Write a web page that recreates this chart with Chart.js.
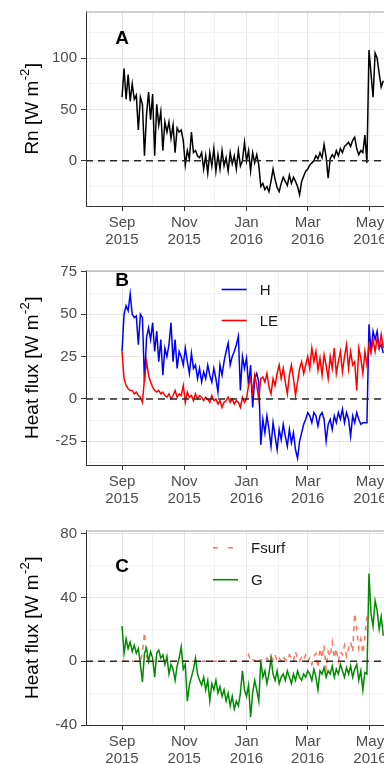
<!DOCTYPE html>
<html>
<head>
<meta charset="utf-8">
<script src="https://cdn.jsdelivr.net/npm/chart.js@4.4.0/dist/chart.umd.min.js"></script>
<style>
  html, body { margin: 0; padding: 0; background: #fff; width: 384px; height: 764px; overflow: hidden; }
  .panel { position: absolute; left: 0; width: 420px; height: 250px; }
</style>
</head>
<body>
<div class="panel" style="top:0px"><canvas id="chartA"></canvas></div>
<div class="panel" style="top:259px"><canvas id="chartB"></canvas></div>
<div class="panel" style="top:519px"><canvas id="chartC"></canvas></div>
<script>
// series are read every second day, starting on 1 Sep 2015
const startDate = '2015-09-01';
const stepDays = 2;

// x axis breaks
const monthBreaks = ['2015-09-01', '2015-11-01', '2016-01-01', '2016-03-01', '2016-05-01'];
const monthLabels = [['Sep', '2015'], ['Nov', '2015'], ['Jan', '2016'], ['Mar', '2016'], ['May', '2016']];
const minorBreaks = ['2015-08-01', '2015-10-01', '2015-12-01', '2016-02-01', '2016-04-01'];

// panel A: net radiation
const rn = [
  62, 90, 60, 84, 58, 75, 60, 64, 30, 62,
  55, 5, 45, 67, 40, 65, 5, 55, 35, 48,
  10, 38, 28, 38, 22, 35, 8, 32, 28, 30,
  20, -4, 10, 2, 28, 8, 10, 5, 3, 8,
  -8, 5, -12, 8, -5, 12, -10, 6, -8, 10,
  -5, 3, -10, 8, -3, 5, -8, 10, -5, 0,
  18, 0, 10, -10, 8, -2, 6, -4, -25, -22,
  -28, -25, -30, -20, -8, -18, -26, -30, -22, -16,
  -20, -24, -14, -22, -16, -20, -25, -33, -20, -15,
  -10, -8, -4, -2, 0, 5, 2, 8, 3, 16,
  4, -17, 2, 6, 3, 10, 5, 12, 8, 14,
  16, 18, 14, 20, 23, 12, 6, 10, 8, 25,
  -2, 108, 85, 62, 105, 100, 85, 72, 78
];

// panel B: sensible and latent heat flux
const fluxH = [
  28, 50, 55, 52, 62, 50, 48, 49, 32, 50,
  48, 10, 36, 42, 35, 45, 28, 40, 22, 35,
  14, 30, 25, 32, 45, 22, 35, 18, 28, 25,
  20, 30, 22, 15, 27, 18, 20, 12, 18, 10,
  16, 12, 20, 14, 10, 18, 12, 4, 20, 14,
  22, 28, 33, 20, 25, 28, 32, 37, 5, 25,
  18, 24, 8, 20, -5, 12, 15, 10, -27, -12,
  -20, -10, -18, -28, -14, -22, -30, -18, -24, -15,
  -22, -28, -18, -26, -20, -30, -35, -25, -20, -15,
  -12, -8, -10, -14, -8, -10, -16, -10, -8, -12,
  -25, -15, -12, -18, -10, -14, -8, -12, -6, -14,
  -8, -12, -22, -10, -14, -8, -12, -15, -14, -14,
  -14, 44, 28, 40, 35, 40, 30, 32, 27
];
const fluxLE = [
  28, 12, 8, 6, 5, 5, 3, 4, 2, 1,
  -2, 12, 22, 14, 10, 7, 5, 4, 5, 3,
  4, 2, 1, 3, 0, 2, 5, 1, 3, 2,
  8, -2, 4, 1, 2, -1, 3, 0, 2, 1,
  -1, 1, 0, -2, 2, -1, 0, -3, -1, -5,
  -2, -1, 1, -2, 0, -3, -1, -2, -5, 1,
  -2, 0, 8, 12, 4, 14, 8, 0, 12, 13,
  10, 15, 7, 3, 12, 8, 15, 20, 12, 18,
  10, 3, 14, 20, 12, 2, 10, 18, 22, 15,
  20, 25, 18, 30, 22, 28, 17, 24, 14, 26,
  20, 12, 25, 18, 30, 15, 22, 28, 16, 25,
  32, 18, 28, 20, 22, 5, 30, 24, 15, 28,
  20, 32, 27, 35, 28, 36, 30, 38, 30
];

// panel C: surface flux and soil heat flux
const fluxFsurf = [
  0, 0, 0, 0, 0, 0, 0, 0, 0, 0,
  5, 18, 3, 0, 0, 0, 0, 0, 0, 0,
  0, 0, 0, 0, 0, 0, 0, 0, 0, 0,
  0, 0, 0, 0, 0, 0, 0, 0, 0, 0,
  0, 0, 0, 0, 0, 0, 0, 0, 0, 0,
  0, 0, 0, 0, 0, 0, 0, 0, 0, 0,
  0, 0, 4, 0, 1, 0, 2, 0, 1, 0,
  0, 2, 0, 3, 1, 4, 0, 2, 0, 3,
  1, 0, 4, 2, 0, 6, 2, 0, 3, 1,
  4, 0, 2, -2, 3, 5, -4, 8, 2, 10,
  -5, 6, 3, 12, 2, 8, 0, 6, 4, 10,
  3, 8, 12, 6, 30, 20, 8, 14, 5, 15,
  28, null, null, null, null, null, null, null, null
];
const fluxG = [
  22, 5, 14, 8, 12, 6, 10, 5, 8, -2,
  -13, 5, 8, 0, 6, 2, -10, 5, 7, 2,
  4, -2, 3, -8, -2, -5, -12, -3, 2, 9,
  -5, -2, -25, -15, -10, -5, 2, -8, -12, -15,
  -10, -18, -12, -25, -14, -18, -12, -20, -16, -22,
  -18, -25, -20, -28, -22, -30, -25, -28, -20, -6,
  -18, -22, -15, -35, -20, -12, -18, -25, 0, -10,
  -6, -14, -8, 2, -8, -12, -6, -14, -10, -8,
  -12, -6, -10, -14, -8, -12, -6, -10, -12, -8,
  -10, -6, -8, -12, -5, -10, -18, -6, -8, -4,
  -10, -6, -8, -3, -10, -5, -8, -2, -6, -10,
  -4, -8, -3, -10, -5, -2, -12, -6, -18, -7,
  -8, 55, 30, 22, 38, 32, 20, 28, 16
];

// y axis breaks per panel
const yMajorA = [0, 50, 100];
const yMinorA = [-25, 25, 75, 125];
const yMajorB = [-25, 0, 25, 50, 75];
const yMinorB = [-37.5, -12.5, 12.5, 37.5, 62.5];
const yMajorC = [-40, 0, 40, 80];
const yMinorC = [-20, 20, 60];

const FONT = '"Liberation Sans", Arial, Helvetica, sans-serif';
Chart.defaults.font.family = FONT;

const DAY_MS = 86400000;
function dayOf(d) { return (Date.parse(d) - Date.parse(startDate)) / DAY_MS; }
function toPoints(values) { return values.map((v, i) => ({ x: i * stepDays, y: v })); }

const xMajor = monthBreaks.map(dayOf);
const xMinor = minorBreaks.map(dayOf);

// draws frame top, zero line, panel letter, legend and y title with superscript
const panelDeco = {
  id: 'panelDeco',
  beforeDatasetsDraw(chart) {
    const { ctx, chartArea: a } = chart;
    ctx.save();
    ctx.strokeStyle = '#A6A6A6';
    ctx.lineWidth = 1;
    ctx.beginPath();
    ctx.moveTo(a.left, a.top + 0.5);
    ctx.lineTo(a.right, a.top + 0.5);
    ctx.stroke();
    ctx.restore();
  },
  afterDatasetsDraw(chart, args, opts) {
    const { ctx, chartArea: a, scales } = chart;
    ctx.save();
    const y0 = scales.y.getPixelForValue(0);
    ctx.setLineDash([7, 5]);
    ctx.strokeStyle = '#2A2A2A';
    ctx.lineWidth = 1.5;
    ctx.beginPath();
    ctx.moveTo(a.left, y0);
    ctx.lineTo(a.right, y0);
    ctx.stroke();
    ctx.setLineDash([]);

    ctx.fillStyle = '#000';
    ctx.font = 'bold 19px ' + FONT;
    ctx.textAlign = 'center';
    ctx.textBaseline = 'middle';
    ctx.fillText(opts.letter, scales.x.getPixelForValue(0), scales.y.getPixelForValue(opts.letterAt));

    (opts.legendOrder || []).forEach((idx, k) => {
      const ds = chart.data.datasets[idx];
      const y = a.top + opts.legendTop + k * opts.legendGap;
      ctx.strokeStyle = ds.borderColor;
      ctx.lineWidth = 1.6;
      ctx.setLineDash(ds.borderDash ? [5, 10] : []);
      ctx.beginPath();
      ctx.moveTo(a.left + opts.legendX, y);
      ctx.lineTo(a.left + opts.legendX + 25, y);
      ctx.stroke();
      ctx.setLineDash([]);
      ctx.fillStyle = '#1A1A1A';
      ctx.font = '15px ' + FONT;
      ctx.textAlign = 'left';
      ctx.textBaseline = 'middle';
      ctx.fillText(ds.label, a.left + opts.legendX + 38, y + 1);
    });
    ctx.restore();
  },
  afterDraw(chart, args, opts) {
    const { ctx, chartArea: a } = chart;
    ctx.save();
    ctx.translate(37.5, (a.top + a.bottom) / 2);
    ctx.rotate(-Math.PI / 2);
    ctx.fillStyle = '#000';
    ctx.textAlign = 'left';
    ctx.textBaseline = 'alphabetic';
    const big = '19px ' + FONT, small = '13px ' + FONT;
    ctx.font = big;
    const w1 = ctx.measureText(opts.title).width;
    const w3 = ctx.measureText(']').width;
    ctx.font = small;
    const w2 = ctx.measureText('-2').width + 1;
    let x = -(w1 + w2 + w3) / 2;
    ctx.font = big;
    ctx.fillText(opts.title, x, 0);
    x += w1;
    ctx.font = small;
    ctx.fillText('-2', x + 0.5, -9);
    x += w2;
    ctx.font = big;
    ctx.fillText(']', x, 0);
    ctx.restore();
  }
};

function makeOptions(yMin, yMax, yMajor, yMinor, deco) {
  return {
    responsive: true,
    maintainAspectRatio: false,
    animation: false,
    layout: { padding: { top: 9.5, right: 0, bottom: 0, left: 0 } },
    elements: { point: { radius: 0 }, line: { tension: 0 } },
    plugins: { legend: { display: false }, tooltip: { enabled: false }, panelDeco: deco },
    scales: {
      x: {
        type: 'linear',
        min: -35.3,
        max: 292,
        afterBuildTicks: s => { s.ticks = xMinor.concat(xMajor).sort((p, q) => p - q).map(v => ({ value: v })); },
        afterFit: s => { s.height = 44; },
        ticks: {
          autoSkip: false, maxRotation: 0, padding: 3, color: '#4D4D4D',
          font: { size: 15, lineHeight: 1.15 },
          callback: v => { const k = xMajor.indexOf(v); return k >= 0 ? monthLabels[k] : ''; }
        },
        grid: {
          color: c => xMajor.includes(c.tick.value) ? '#E4E4E4' : '#F2F2F2',
          tickColor: c => xMajor.includes(c.tick.value) ? '#333' : 'rgba(0,0,0,0)',
          tickLength: 5, lineWidth: 1
        },
        border: { display: true, color: '#333', width: 1 }
      },
      y: {
        min: yMin,
        max: yMax,
        afterBuildTicks: s => { s.ticks = yMinor.concat(yMajor).sort((p, q) => p - q).map(v => ({ value: v })); },
        afterFit: s => { s.width = 86; },
        ticks: {
          autoSkip: false, padding: 4, color: '#4D4D4D',
          font: { size: 15, lineHeight: 1 },
          callback: v => yMajor.includes(v) ? String(v) : ''
        },
        grid: {
          color: c => yMajor.includes(c.tick.value) ? '#E4E4E4' : '#F2F2F2',
          tickColor: c => yMajor.includes(c.tick.value) ? '#333' : 'rgba(0,0,0,0)',
          tickLength: 5, lineWidth: 1
        },
        border: { display: true, color: '#333', width: 1 }
      }
    }
  };
}

new Chart(document.getElementById('chartA'), {
  type: 'line',
  data: { datasets: [
    { label: 'Rn', data: toPoints(rn), borderColor: '#000', borderWidth: 1.5 }
  ] },
  options: makeOptions(-44, 145.5, yMajorA, yMinorA, { letter: 'A', letterAt: 119, title: 'Rn [W m' }),
  plugins: [panelDeco]
});

new Chart(document.getElementById('chartB'), {
  type: 'line',
  data: { datasets: [
    { label: 'LE', data: toPoints(fluxLE), borderColor: '#FF0000', borderWidth: 1.5 },
    { label: 'H', data: toPoints(fluxH), borderColor: '#0000FF', borderWidth: 1.5 }
  ] },
  options: makeOptions(-39, 75.8, yMajorB, yMinorB, {
    letter: 'B', letterAt: 69.5, title: 'Heat flux [W m',
    legendOrder: [1, 0], legendX: 135.7, legendTop: 19, legendGap: 31
  }),
  plugins: [panelDeco]
});

new Chart(document.getElementById('chartC'), {
  type: 'line',
  data: { datasets: [
    { label: 'G', data: toPoints(fluxG), borderColor: '#008B00', borderWidth: 1.5 },
    { label: 'Fsurf', data: toPoints(fluxFsurf), borderColor: 'rgba(255,90,60,0.85)', borderWidth: 1.5, borderDash: [5, 5] }
  ] },
  options: makeOptions(-40, 82, yMajorC, yMinorC, {
    letter: 'C', letterAt: 59, title: 'Heat flux [W m',
    legendOrder: [1, 0], legendX: 127, legendTop: 17.2, legendGap: 32
  }),
  plugins: [panelDeco]
});
</script>
</body>
</html>
